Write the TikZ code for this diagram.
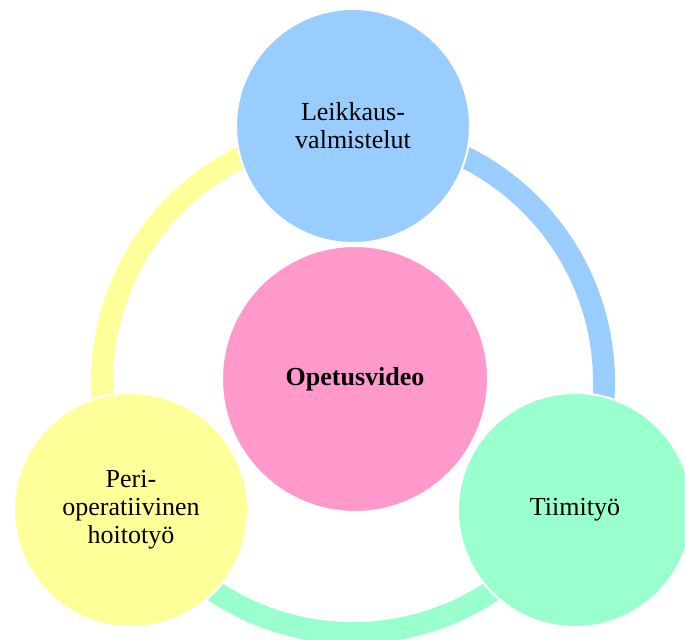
\documentclass[tikz,border=0pt]{standalone}
\usepackage{fontspec}
\setmainfont{Liberation Serif}
\usetikzlibrary{positioning}

\definecolor{prepblue}{HTML}{99CCFF}
\definecolor{teamgreen}{HTML}{99FFCC}
\definecolor{periyellow}{HTML}{FFFF99}
\definecolor{videopink}{HTML}{FF99CC}

\begin{document}
\begin{tikzpicture}[x=0.5pt,y=0.5pt,
  topic/.style={circle,draw=white,line width=1pt,minimum size=117pt,inner sep=0pt,
    align=center,font=\fontsize{13}{14}\selectfont},
  ring/.style={line width=11pt}]
\useasboundingbox (0,0) rectangle (685,639);
\coordinate (hub) at (353,257);
% ring pieces, each one in the colour of the circle it leaves from
\foreach \from/\to/\col in {90/-30/prepblue,-30/-150/teamgreen,210/90/periyellow}{
  \draw[ring,\col] (hub) ++(\from:251) arc[start angle=\from,end angle=\to,radius=251];
}
\node[topic,fill=videopink,minimum size=133pt,font=\fontsize{13}{14}\selectfont\bfseries] (video) at (355,260) {Opetusvideo};
\node[topic,fill=prepblue] (prep) at (353,513) {Leikkaus-\\valmistelut};
\node[topic,fill=teamgreen] (team) at (575,129) {Tiimityö};
\node[topic,fill=periyellow] (peri) at (131,129) {Peri-\\operatiivinen\\hoitotyö};
\end{tikzpicture}
\end{document}
